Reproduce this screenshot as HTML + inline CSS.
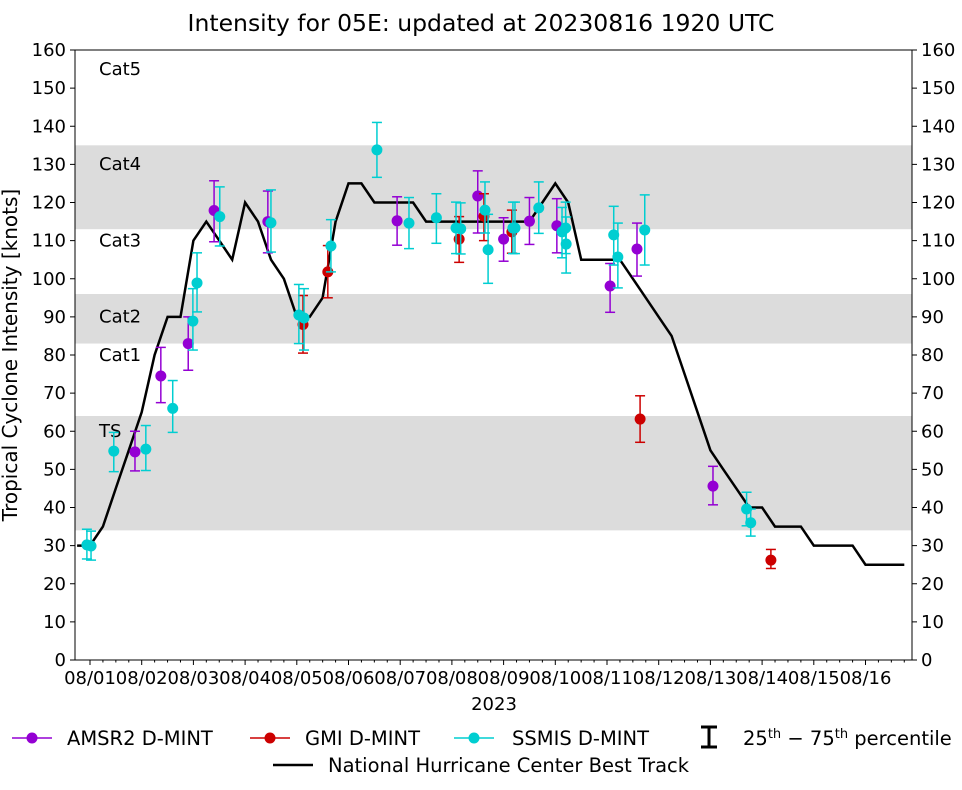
<!DOCTYPE html>
<html><head><meta charset="utf-8"><style>
body{margin:0;background:#fff}
svg text{font-family:"DejaVu Sans","Liberation Sans",sans-serif;fill:#000}
</style></head><body>
<svg id="c" width="962" height="785" xmlns="http://www.w3.org/2000/svg">
<text x="481" y="31" font-size="23.5" text-anchor="middle">Intensity for 05E: updated at 20230816 1920 UTC</text>
<g id="bands"></g><g id="grid"></g><g id="marks"></g><g id="axes"></g>
<g>
<g><line x1="12" y1="738" x2="52" y2="738" stroke="#9400d3" stroke-width="1.5"/><circle cx="32" cy="738" r="5.5" fill="#9400d3"/><text x="67" y="745" font-size="19.5">AMSR2 D-MINT</text></g>
<g><line x1="250" y1="738" x2="290" y2="738" stroke="#cc0000" stroke-width="1.5"/><circle cx="270" cy="738" r="5.5" fill="#cc0000"/><text x="305" y="745" font-size="19.5">GMI D-MINT</text></g>
<g><line x1="454" y1="738" x2="494" y2="738" stroke="#00ced1" stroke-width="1.5"/><circle cx="474" cy="738" r="5.5" fill="#00ced1"/><text x="512" y="745" font-size="19.5">SSMIS D-MINT</text></g>
<g><line x1="709" y1="727" x2="709" y2="747" stroke="#000" stroke-width="3"/><line x1="701" y1="727" x2="717" y2="727" stroke="#000" stroke-width="3"/><line x1="701" y1="747" x2="717" y2="747" stroke="#000" stroke-width="3"/><text x="743" y="745" font-size="19.5">25<tspan font-size="13" dy="-7">th</tspan><tspan dy="7"> − 75</tspan><tspan font-size="13" dy="-7">th</tspan><tspan dy="7"> percentile</tspan></text></g>
<g><line x1="273" y1="765" x2="313" y2="765" stroke="#000" stroke-width="2.5"/><text x="328" y="772" font-size="19.5">National Hurricane Center Best Track</text></g>
</g>
</svg>
<script>
const xTickLabels=["08/01","08/02","08/03","08/04","08/05","08/06","08/07","08/08","08/09","08/10","08/11","08/12","08/13","08/14","08/15","08/16"];
const yTicks=[0,10,20,30,40,50,60,70,80,90,100,110,120,130,140,150,160];
const bandRanges=[[34,64],[83,96],[113,135]];
const catLabels=["Cat5","Cat4","Cat3","Cat2","Cat1","TS"];
const catValues=[154,129,109,89,79,59];
const btDays=[-0.25,0,0.25,0.5,0.75,1,1.25,1.5,1.75,2,2.25,2.5,2.75,3,3.25,3.5,3.75,4,4.25,4.5,4.75,5,5.25,5.5,5.75,6,6.25,6.5,6.75,7,7.25,7.5,7.75,8,8.25,8.5,8.75,9,9.25,9.5,9.75,10,10.25,10.5,10.75,11,11.25,11.5,11.75,12,12.25,12.5,12.75,13,13.25,13.5,13.75,14,14.25,14.5,14.75,15,15.25,15.5,15.75];
const btVals=[30,30,35,45,55,65,80,90,90,110,115,110,105,120,115,105,100,90,90,95,115,125,125,120,120,120,120,115,115,115,115,115,115,115,115,115,120,125,120,105,105,105,105,100,95,90,85,75,65,55,50,45,40,40,35,35,35,30,30,30,30,25,25,25,25];
const amsrDays=[0.87,1.37,1.9,2.4,3.44,5.94,7.5,8.0,8.5,9.03,10.06,10.58,12.05];
const amsrVals=[54.6,74.5,83,117.9,115,115.2,121.7,110.4,115.1,113.9,98.1,107.8,45.6];
const amsrLo=[49.6,67.5,76,109.7,106.8,108.8,112,104.6,109,106.8,91.2,100.7,40.7];
const amsrHi=[60,82,90,125.7,123,121.5,128.3,116,121.3,121,104,114.6,50.8];
const gmiDays=[4.12,4.6,7.14,7.62,8.16,10.64,13.17];
const gmiVals=[88,101.8,110.4,116.4,112.3,63.2,26.2];
const gmiLo=[80.5,95,104.3,110,106.7,57.1,24];
const gmiHi=[95.6,108.7,116.3,122.3,118,69.3,29];
const ssDays=[-0.06,0.02,0.46,1.08,1.6,1.99,2.07,2.51,3.5,4.04,4.14,4.66,5.55,6.17,6.7,7.08,7.17,7.64,7.7,8.18,8.22,8.68,9.13,9.2,9.21,10.13,10.21,10.73,12.7,12.78];
const ssVals=[30.2,29.9,54.8,55.3,66,88.9,98.9,116.3,114.7,90.5,89.7,108.6,133.8,114.6,116,113.3,113.1,118,107.6,113.3,113.3,118.6,112.3,113.3,109.1,111.5,105.7,112.8,39.6,36];
const ssLo=[26.5,26.2,49.4,49.7,59.7,81.3,91.3,108.6,107,83,81.3,101.8,126.6,107.9,109.3,106.6,106.5,112,98.8,106.6,106.6,111.9,105.5,106.6,101.5,103.6,97.6,103.6,35.2,32.5];
const ssHi=[34.3,33.8,59.7,61.5,73.3,97.4,106.8,124.1,123.3,98.5,97.4,115.5,141,121.3,122.3,120.1,119.9,125.4,116.9,120.1,120.1,125.4,118.7,120.1,116.2,119,114.6,122,44,39.6];

const L=75,R=912,T=50,B=660;
const X=d=>90+d*51.7;
const Y=v=>B-(v/160)*(B-T);
const NS="http://www.w3.org/2000/svg";
function mk(tag,attrs,parent,txt){const e=document.createElementNS(NS,tag);for(const k in attrs)e.setAttribute(k,attrs[k]);if(txt!=null)e.textContent=txt;parent.appendChild(e);return e;}
const bands=document.getElementById('bands'),marks=document.getElementById('marks'),axes=document.getElementById('axes');
bandRanges.forEach((b,i)=>{const r=mk('rect',{x:L,y:Y(b[1]),width:R-L,height:Y(b[0])-Y(b[1]),fill:'#dcdcdc'},bands);

});
catLabels.forEach((c,i)=>{const t=mk('text',{x:99,y:Y(catValues[i])+2,'font-size':18},bands,c);

});
const pts=btDays.map((d,i)=>X(d).toFixed(1)+','+Y(btVals[i]).toFixed(1)).join(' ');
const bt=mk('polyline',{points:pts,fill:'none',stroke:'#000','stroke-width':2.5,'stroke-linejoin':'miter'},marks);


function series(days,vals,lo,hi,color,name){
 days.forEach((d,i)=>{const g=mk('g',{},marks);
 
 
 const x=X(d);
 mk('line',{x1:x,x2:x,y1:Y(lo[i]),y2:Y(hi[i]),stroke:color,'stroke-width':1.5},g);
 mk('line',{x1:x-5,x2:x+5,y1:Y(lo[i]),y2:Y(lo[i]),stroke:color,'stroke-width':1.5},g);
 mk('line',{x1:x-5,x2:x+5,y1:Y(hi[i]),y2:Y(hi[i]),stroke:color,'stroke-width':1.5},g);
 mk('circle',{cx:x,cy:Y(vals[i]),r:5.5,fill:color},g);});
}
series(amsrDays,amsrVals,amsrLo,amsrHi,'#9400d3','amsr2');
series(gmiDays,gmiVals,gmiLo,gmiHi,'#cc0000','gmi');
series(ssDays,ssVals,ssLo,ssHi,'#00ced1','ssmis');
const fr=mk('rect',{x:L,y:T,width:R-L,height:B-T,fill:'none',stroke:'#000','stroke-width':1},axes);


yTicks.forEach(v=>{const y=Y(v);
 mk('line',{x1:L-5,x2:L,y1:y,y2:y,stroke:'#000'},axes);
 mk('line',{x1:R,x2:R+5,y1:y,y2:y,stroke:'#000'},axes);
 const a=mk('text',{x:L-9,y:y+6,'font-size':18,'text-anchor':'end'},axes,v);
 
 
 const b=mk('text',{x:R+9,y:y+6,'font-size':18},axes,v);
 
 });
for(let d=0;d<=16.5;d+=0.25){const x=X(d);if(x>R)break;mk('line',{x1:x,x2:x,y1:B,y2:B+(d%1===0?5:2.5),stroke:'#000'},axes);}
xTickLabels.forEach((s,i)=>{const t=mk('text',{x:X(i),y:B+24,'font-size':18,'text-anchor':'middle'},axes,s);
 
 });
const xt=mk('text',{x:494,y:710,'font-size':18,'text-anchor':'middle'},axes,'2023');


const yt=mk('text',{x:0,y:0,'font-size':20,'text-anchor':'middle',transform:'translate(17,355) rotate(-90)'},axes,'Tropical Cyclone Intensity [knots]');


</script>
</body></html>
